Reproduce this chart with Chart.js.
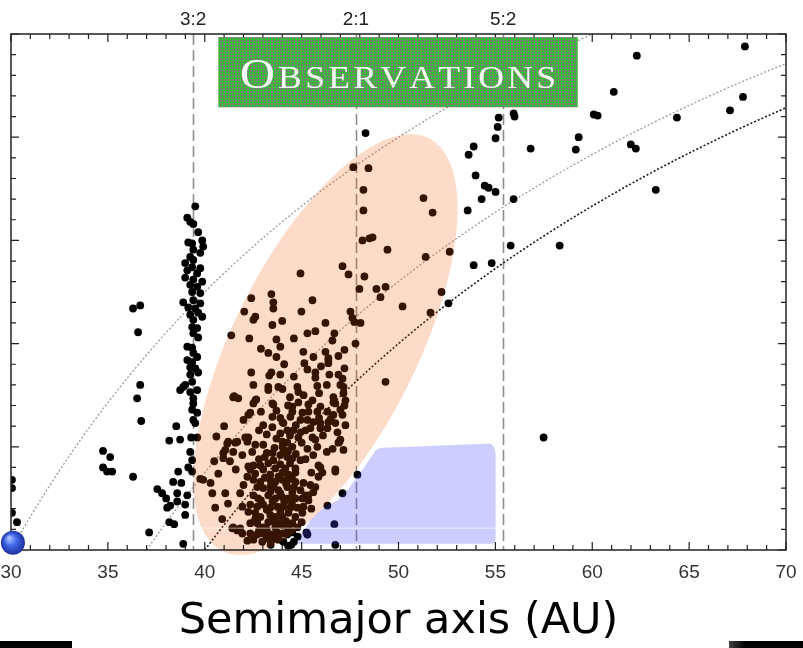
<!DOCTYPE html>
<html>
<head>
<meta charset="UTF-8">
<title>Observations - semimajor axis</title>
<script src="https://cdn.jsdelivr.net/npm/chart.js"></script>
<style>
  html, body { margin: 0; padding: 0; background: #fff; }
  #wrap { width: 803px; height: 648px; }
</style>
</head>
<body>
<div id="wrap"><canvas id="kbo" width="803" height="648"></canvas></div>
<script>
// axis ticks
var xMajorTicks = [30, 35, 40, 45, 50, 55, 60, 65, 70];

// mean-motion resonances with Neptune (top labels + dashed lines)
var resonanceA = [39.4, 47.8, 55.4];
var resonanceLabels = ['3:2', '2:1', '5:2'];

// objects: [semimajor axis (AU), eccentricity]
var inner = [
  [30.05,0.068],[30.05,0.060],[30.05,0.036],[30.31,0.027],
  [36.30,0.234],[36.67,0.237],[36.56,0.211],[36.67,0.160],[36.51,0.147],[36.72,0.125],
  [34.75,0.096],[35.12,0.090],[34.75,0.080],[34.96,0.076],[35.22,0.076],[36.30,0.071],
  [37.13,0.017],[37.55,0.059],[37.80,0.055],[38.01,0.050],[38.06,0.041],[38.22,0.043],
  [38.17,0.027],[38.42,0.025],[38.17,0.106],[38.53,0.120],[38.73,0.107],[38.37,0.066],
  [38.79,0.065],[38.58,0.055],[38.63,0.076],[38.58,0.047],[38.89,0.006],[38.99,0.034],
  [38.73,0.155],[38.89,0.158],[38.99,0.044]
];

var plutinos = [
  [39.51,0.333],[39.10,0.322],[39.25,0.318],[39.41,0.316],[39.66,0.308],[39.87,0.300],
  [39.15,0.298],[39.35,0.297],[39.92,0.294],[39.41,0.291],[39.77,0.288],[39.25,0.284],
  [39.41,0.281],[38.99,0.278],[39.35,0.274],[39.77,0.273],[39.10,0.271],[39.61,0.268],
  [38.99,0.264],[39.41,0.262],[39.87,0.260],[39.25,0.257],[39.61,0.255],[39.35,0.250],
  [39.77,0.249],[38.89,0.240],[39.41,0.242],[39.77,0.239],[39.15,0.235],[39.51,0.234],
  [39.66,0.230],[39.25,0.228],[39.87,0.226],[39.41,0.223],[39.35,0.216],[39.61,0.215],
  [39.41,0.210],[39.66,0.206],[39.10,0.197],[39.35,0.196],[39.41,0.191],[39.10,0.184],
  [39.35,0.182],[39.61,0.187],[39.51,0.176],[39.25,0.177],[39.66,0.172],[39.25,0.170],
  [38.99,0.160],[39.35,0.163],[39.61,0.155],[39.25,0.153],[39.41,0.147],[39.41,0.142],
  [39.35,0.136],[39.61,0.133],[39.41,0.126],[39.51,0.123],[39.30,0.109],[39.61,0.109],
  [39.25,0.095],[39.35,0.087],[39.15,0.080],[39.35,0.076],[39.10,0.053]
];

var classical = [
  [44.94,0.268],[42.40,0.244],[43.44,0.248],[43.54,0.240],[43.54,0.234],[42.04,0.231],
  [42.51,0.223],[42.61,0.226],[45.56,0.242],[44.99,0.231],[43.49,0.218],[41.37,0.208],
  [43.70,0.204],[45.71,0.212],[46.23,0.220],[43.28,0.191],[43.70,0.187],[46.69,0.210],
  [46.59,0.203],[47.21,0.194],[47.78,0.200],[46.23,0.192],[46.38,0.186],[46.38,0.181],
  [45.61,0.187],[45.14,0.181],[42.40,0.172],[43.44,0.172],[43.33,0.169],[43.90,0.170],
  [45.71,0.172],[45.71,0.167],[46.43,0.170],[47.21,0.176],[47.11,0.166],[42.51,0.160],
  [43.28,0.158],[43.80,0.158],[44.78,0.158],[45.81,0.159],[47.16,0.158],[47.11,0.275],
  [47.42,0.267],[48.24,0.265],[47.98,0.253],[47.52,0.231],[47.62,0.225],[47.72,0.221],
  [48.04,0.220],[47.67,0.371],[48.45,0.370],[48.19,0.349],[48.19,0.329],[48.14,0.300],
  [48.50,0.302],[48.66,0.303],[51.29,0.341],[51.76,0.327],[49.43,0.291],[51.40,0.284],
  [52.64,0.289],[48.86,0.253],[49.07,0.245],[49.33,0.255],[50.21,0.236],[51.65,0.230],
  [52.22,0.250],[49.33,0.163],[45.09,0.192],[46.38,0.184],[41.47,0.148],[41.73,0.147],
  [42.25,0.131],[42.66,0.146],[42.09,0.109],[42.25,0.109],[42.61,0.102],[43.02,0.102],
  [41.16,0.103],[41.58,0.104],[40.96,0.094],[39.77,0.069],[39.92,0.068],[40.49,0.086],
  [40.70,0.074],[40.39,0.055],[41.06,0.055],[40.54,0.041],[41.83,0.055],[41.42,0.021],
  [41.68,0.019],[47.11,0.055],[46.74,0.076],[47.00,0.107],[46.90,0.104],[45.97,0.080],
  [46.07,0.075],[46.64,0.143],[46.64,0.148],[47.00,0.160],[47.88,0.073],[42.35,0.133],
  [41.94,0.016],[41.52,0.149],[43.28,0.155],[44.01,0.156],[44.83,0.153],[42.61,0.145],
  [42.51,0.142],[43.49,0.142],[43.54,0.141],[44.83,0.143],[44.52,0.139],[45.35,0.141],
  [45.56,0.145],[45.97,0.139],[46.74,0.142],[47.16,0.152],[47.26,0.145],[47.21,0.140],
  [44.52,0.134],[45.04,0.133],[45.35,0.134],[45.81,0.134],[46.33,0.134],[46.64,0.131],
  [47.11,0.131],[43.49,0.129],[43.90,0.128],[44.01,0.124],[44.42,0.129],[44.94,0.126],
  [45.30,0.126],[45.61,0.124],[45.97,0.123],[46.38,0.124],[46.74,0.123],[47.26,0.121],
  [43.02,0.121],[43.49,0.119],[44.06,0.123],[44.26,0.116],[44.57,0.116],[44.94,0.114],
  [45.45,0.118],[45.97,0.118],[46.33,0.118],[46.85,0.114],[43.90,0.113],[44.83,0.109],
  [45.56,0.109],[45.71,0.107],[46.95,0.105],[47.16,0.097],[41.21,0.105],[41.68,0.105],
  [42.20,0.105],[44.01,0.105],[44.26,0.104],[44.52,0.100],[44.01,0.100],[44.06,0.095],
  [45.81,0.100],[41.06,0.097],[41.47,0.095],[41.94,0.092],[42.45,0.095],[40.96,0.089],
  [43.90,0.092],[44.26,0.090],[44.52,0.089],[44.94,0.087],[43.54,0.087],[43.28,0.084],
  [42.87,0.082],[42.51,0.082],[42.25,0.081],[42.35,0.078],[43.02,0.078],[43.64,0.079],
  [44.16,0.079],[44.68,0.079],[44.01,0.075],[44.32,0.073],[44.68,0.075],[43.38,0.073],
  [42.20,0.071],[45.87,0.082],[45.87,0.071],[46.74,0.078],[42.51,0.068],[42.87,0.066],
  [43.38,0.068],[43.64,0.066],[44.01,0.068],[44.32,0.068],[44.68,0.066],[45.09,0.065],
  [45.45,0.063],[45.71,0.061],[42.71,0.061],[43.02,0.060],[43.54,0.061],[43.80,0.058],
  [44.26,0.061],[44.52,0.056],[44.94,0.058],[45.19,0.053],[45.35,0.053],[42.51,0.053],
  [42.76,0.050],[43.28,0.053],[43.64,0.050],[44.01,0.051],[44.32,0.050],[44.68,0.050],
  [45.04,0.050],[45.35,0.048],[41.94,0.042],[42.35,0.044],[42.71,0.042],[43.02,0.044],
  [43.38,0.041],[43.75,0.042],[44.06,0.042],[44.42,0.041],[44.78,0.041],[45.09,0.042],
  [42.25,0.037],[42.61,0.036],[42.87,0.032],[43.38,0.034],[43.64,0.032],[44.01,0.032],
  [44.32,0.036],[44.68,0.032],[45.04,0.036],[41.47,0.022],[41.83,0.021],[42.35,0.026],
  [42.71,0.026],[43.02,0.022],[43.28,0.027],[43.64,0.022],[44.01,0.024],[44.26,0.022],
  [44.52,0.026],[44.78,0.022],[42.35,0.016],[42.71,0.015],[43.02,0.016],[43.38,0.015],
  [43.64,0.013],[44.01,0.016],[44.26,0.015],[44.52,0.017],[42.51,0.010],[42.97,0.008],
  [43.49,0.010],[43.80,0.010],[44.06,0.008],
  [46.33,0.043],[46.69,0.025],[45.25,0.017],[45.30,0.015],[44.47,0.005],[46.74,0.005],
  [43.20,0.112],[43.70,0.108],[44.40,0.111],[44.70,0.121],[45.20,0.116],[45.90,0.128],
  [46.10,0.111],[46.50,0.127],[47.00,0.136],[45.00,0.104],[44.30,0.096],[44.70,0.093],
  [45.30,0.098],[43.60,0.099],[43.20,0.094],[44.40,0.148],[45.10,0.150],[45.90,0.152],
  [46.30,0.160],[46.90,0.170],[44.60,0.168],[45.30,0.175],[46.00,0.178],[44.10,0.180],
  [42.90,0.195],[43.90,0.197],[44.60,0.205],[45.30,0.210],[44.00,0.222],[42.30,0.205],
  [46.90,0.188],[43.10,0.090],[43.50,0.094],[43.90,0.083],[44.40,0.084],[43.10,0.070],
  [43.80,0.071],[44.50,0.070],[44.20,0.064],[43.40,0.062],[42.60,0.074],[43.90,0.055],
  [43.40,0.057],[44.60,0.061],[44.10,0.046],[43.50,0.047],[42.90,0.048],[43.90,0.037],
  [43.20,0.039],[44.50,0.045],[42.60,0.030],[43.50,0.028],[44.20,0.028],[43.80,0.026],
  [43.20,0.020],[44.40,0.019],[43.70,0.018],[42.80,0.019],[44.80,0.013],[43.20,0.011],
  [44.60,0.008],[43.40,0.005],[44.30,0.004],[42.20,0.009],[45.00,0.027],[45.50,0.040],
  [45.60,0.056],[45.50,0.075],[45.20,0.088],[45.60,0.092],[46.30,0.095],[46.60,0.098],
  [42.00,0.063],[41.60,0.078],[41.30,0.086],[42.80,0.088],[42.00,0.126],[42.90,0.134],
  [43.70,0.135],[44.30,0.140],[42.80,0.116],[40.90,0.030],[41.20,0.045],[40.30,0.065],
  [41.00,0.120],[40.60,0.110]
];

var scattered = [
  [48.30,0.404],[53.88,0.391],[53.62,0.383],[53.98,0.363],[54.45,0.353],[54.65,0.351],
  [54.29,0.340],[55.01,0.347],[53.57,0.329],[55.94,0.340],[55.79,0.295],[58.32,0.295],
  [53.88,0.276],[54.81,0.278],[55.01,0.399],[55.12,0.410],[55.17,0.419],[55.94,0.423],
  [55.99,0.420],[56.82,0.389],[59.15,0.388],[59.30,0.400],[67.88,0.488],[62.30,0.479],
  [61.11,0.444],[60.08,0.422],[60.28,0.421],[61.99,0.393],[62.25,0.389],[64.37,0.419],
  [67.11,0.426],[67.78,0.439],[63.28,0.349],[57.49,0.109],[52.58,0.239]
];

// constant-perihelion curves q = 30, 37, 40 AU
var q30a = [30, 31, 32, 33, 34, 35, 37.5, 40, 42.5, 45, 47.5, 50, 52.5, 55, 57.5, 60];
var q30e = [0, 0.0323, 0.0625, 0.0909, 0.1176, 0.1429, 0.2, 0.25, 0.2941, 0.3333, 0.3684, 0.4, 0.4286, 0.4545, 0.4783, 0.5];
var q37a = [37, 38, 39, 40, 42.5, 45, 47.5, 50, 52.5, 55, 57.5, 60, 62.5, 65, 67.5, 70];
var q37e = [0, 0.0263, 0.0513, 0.075, 0.1294, 0.1778, 0.2211, 0.26, 0.2952, 0.3273, 0.3565, 0.3833, 0.408, 0.4308, 0.4519, 0.4714];
var q40a = [40, 41, 42, 43, 45, 47.5, 50, 52.5, 55, 57.5, 60, 62.5, 65, 67.5, 70];
var q40e = [0, 0.0244, 0.0476, 0.0698, 0.1111, 0.1579, 0.2, 0.2381, 0.2727, 0.3043, 0.3333, 0.36, 0.3846, 0.4074, 0.4286];

function toXY(arr) {
    return arr.map(function (p) { return { x: p[0], y: p[1] }; });
}
function zipXY(xs, ys) {
    return xs.map(function (v, i) { return { x: v, y: ys[i] }; });
}

var dot = { showLine: false, pointRadius: 3.9, pointBackgroundColor: '#000', pointBorderWidth: 0, pointHoverRadius: 3.9 };
function curve(data, color, width) {
    return {
        data: data, showLine: true, pointRadius: 0, fill: false,
        borderColor: color, borderWidth: width, borderDash: [2, 2],
        cubicInterpolationMode: 'monotone'
    };
}

// green mesh fill of the title box
function meshPattern(ctx) {
    var c = document.createElement('canvas');
    c.width = 3; c.height = 3;
    var g = c.getContext('2d');
    g.fillStyle = '#787b76'; g.fillRect(0, 0, 3, 3);
    g.fillStyle = '#30c430'; g.fillRect(0, 0, 3, 1); g.fillRect(0, 0, 1, 3);
    return ctx.createPattern(c, 'repeat');
}

var resonancePlugin = {
    id: 'resonances',
    beforeDatasetsDraw: function (chart) {
        var ctx = chart.ctx, a = chart.chartArea, xs = chart.scales.x;
        ctx.save();
        ctx.strokeStyle = '#8c8c8c';
        ctx.lineWidth = 1.6;
        ctx.setLineDash([11, 5]);
        resonanceA.forEach(function (v) {
            var px = Math.round(xs.getPixelForValue(v)) + 0.5;
            ctx.beginPath(); ctx.moveTo(px, a.top); ctx.lineTo(px, a.bottom); ctx.stroke();
        });
        ctx.restore();
    }
};

var overlayPlugin = {
    id: 'overlay',
    afterDatasetsDraw: function (chart) {
        var ctx = chart.ctx, a = chart.chartArea, xs = chart.scales.x, ys = chart.scales.y;
        var X = function (v) { return xs.getPixelForValue(v); };
        var Y = function (v) { return ys.getPixelForValue(v); };
        var k = (a.right - a.left) / 775;

        // peach ellipse
        ctx.save();
        ctx.beginPath();
        ctx.ellipse(X(46.23), Y(0.199), 230.7 * k, 92.1 * k, -63.4 * Math.PI / 180, 0, 2 * Math.PI);
        ctx.fillStyle = 'rgba(240,90,10,0.22)';
        ctx.fill();

        // blue region
        ctx.beginPath();
        ctx.moveTo(X(44.78), Y(0.006));
        ctx.lineTo(X(45.04), Y(0.016));
        ctx.lineTo(X(45.45), Y(0.029));
        ctx.lineTo(X(46.12), Y(0.041));
        ctx.lineTo(X(46.85), Y(0.048));
        ctx.lineTo(X(47.36), Y(0.058));
        ctx.lineTo(X(48.19), Y(0.079));
        ctx.lineTo(X(48.80), Y(0.096));
        ctx.quadraticCurveTo(X(48.95), Y(0.099), X(49.2), Y(0.099));
        ctx.lineTo(X(54.55), Y(0.103));
        ctx.quadraticCurveTo(X(55.01), Y(0.104), X(55.01), Y(0.092));
        ctx.lineTo(X(55.01), Y(0.012));
        ctx.quadraticCurveTo(X(55.01), Y(0.006), X(54.85), Y(0.006));
        ctx.closePath();
        ctx.fillStyle = 'rgba(70,70,255,0.27)';
        ctx.fill();

        // faint light streak
        ctx.strokeStyle = 'rgba(255,255,255,0.4)';
        ctx.lineWidth = 1.5;
        ctx.beginPath(); ctx.moveTo(X(39.8), Y(0.021)); ctx.lineTo(X(55.0), Y(0.021)); ctx.stroke();

        // frame and inward ticks
        ctx.strokeStyle = '#222';
        ctx.lineWidth = 1.5;
        ctx.strokeRect(a.left, a.top, a.right - a.left, a.bottom - a.top);
        ctx.lineWidth = 1.2;
        ctx.beginPath();
        for (var v = 30; v <= 70; v++) {
            var px = X(v), len = v % 5 === 0 ? 8 : 5;
            ctx.moveTo(px, a.bottom); ctx.lineTo(px, a.bottom - len);
            ctx.moveTo(px, a.top); ctx.lineTo(px, a.top + len);
        }
        for (var i = 0; i <= 25; i++) {
            var py = Y(i * 0.02), l2 = i % 5 === 0 ? 8 : 5;
            ctx.moveTo(a.left, py); ctx.lineTo(a.left + l2, py);
            ctx.moveTo(a.right, py); ctx.lineTo(a.right - l2, py);
        }
        ctx.stroke();

        // resonance labels above the frame
        ctx.fillStyle = '#222';
        ctx.font = '19px "Liberation Sans", Arial, sans-serif';
        ctx.textAlign = 'center';
        ctx.textBaseline = 'middle';
        resonanceA.forEach(function (r, j) {
            ctx.fillText(resonanceLabels[j], X(r), a.top - 14);
        });

        // "Observations" box
        var bx0 = X(40.70), bx1 = X(59.25), by0 = Y(0.497), by1 = Y(0.429);
        ctx.fillStyle = meshPattern(ctx);
        ctx.fillRect(bx0, by0, bx1 - bx0, by1 - by0);
        var big = '42px "Liberation Serif", serif', small = '31px "Liberation Serif", serif';
        var chars = [['O', big]].concat('BSERVATIONS'.split('').map(function (c) { return [c, small]; }));
        var stretch = 1.15, target = 316 * k, total = 0;
        chars.forEach(function (c) { ctx.font = c[1]; c.push(ctx.measureText(c[0]).width * stretch); total += c[2]; });
        var gap = (target - total) / (chars.length - 1);
        var cx = (bx0 + bx1) / 2 - target / 2, base = by0 + 51;
        ctx.fillStyle = '#fff';
        ctx.textAlign = 'left';
        ctx.textBaseline = 'alphabetic';
        chars.forEach(function (c) {
            ctx.font = c[1];
            ctx.save(); ctx.translate(cx, base); ctx.scale(stretch, 1); ctx.fillText(c[0], 0, 0); ctx.restore();
            cx += c[2] + gap;
        });

        // Neptune
        var nx = X(30.1), ny = Y(0.007), nr = 12;
        var grad = ctx.createRadialGradient(nx - 4, ny - 5, 1, nx, ny, nr);
        grad.addColorStop(0, '#a9c0ff');
        grad.addColorStop(0.45, '#4068e8');
        grad.addColorStop(1, '#1d2f9c');
        ctx.beginPath(); ctx.arc(nx, ny, nr, 0, 2 * Math.PI);
        ctx.fillStyle = grad; ctx.fill();

        // dark strips at the bottom corners
        ctx.fillStyle = '#000';
        ctx.fillRect(0, 641, 72, 7);
        var sg = ctx.createLinearGradient(729, 0, 745, 0);
        sg.addColorStop(0, '#444'); sg.addColorStop(1, '#000');
        ctx.fillStyle = sg;
        ctx.fillRect(729, 641, 74, 7);
        ctx.restore();
    }
};

var ctx = document.getElementById('kbo').getContext('2d');
var kboChart = new Chart(ctx, {
    type: 'scatter',
    data: {
        datasets: [
            Object.assign({ label: 'inner', data: toXY(inner) }, dot),
            Object.assign({ label: 'plutinos', data: toXY(plutinos) }, dot),
            Object.assign({ label: 'classical', data: toXY(classical) }, dot),
            Object.assign({ label: 'scattered', data: toXY(scattered) }, dot),
            Object.assign({ label: 'q=30' }, curve(zipXY(q30a, q30e), '#9a9a9a', 1.3)),
            Object.assign({ label: 'q=37' }, curve(zipXY(q37a, q37e), '#9a9a9a', 1.3)),
            Object.assign({ label: 'q=40' }, curve(zipXY(q40a, q40e), '#1a1a1a', 1.6))
        ]
    },
    options: {
        responsive: false,
        animation: false,
        devicePixelRatio: 1,
        events: [],
        layout: { padding: { left: 11, right: 17, top: 34, bottom: 0 } },
        plugins: { legend: { display: false }, tooltip: { enabled: false } },
        scales: {
            x: {
                type: 'linear', position: 'bottom', min: 30, max: 70,
                grid: { display: false, drawTicks: false },
                border: { display: false },
                afterBuildTicks: function (s) { s.ticks = xMajorTicks.map(function (v) { return { value: v }; }); },
                afterFit: function (s) { s.height = 98; s.paddingLeft = 0; s.paddingRight = 0; },
                ticks: {
                    autoSkip: false, maxRotation: 0, padding: 11, color: '#333',
                    font: { family: '"Liberation Sans", Arial, sans-serif', size: 19 }
                },
                title: {
                    display: true, text: 'Semimajor axis (AU)', color: '#000',
                    font: { family: '"DejaVu Sans", Verdana, sans-serif', size: 43 },
                    padding: { top: 0, bottom: 0 }
                }
            },
            y: { type: 'linear', min: 0, max: 0.5, display: false }
        }
    },
    plugins: [resonancePlugin, overlayPlugin]
});
</script>
</body>
</html>
